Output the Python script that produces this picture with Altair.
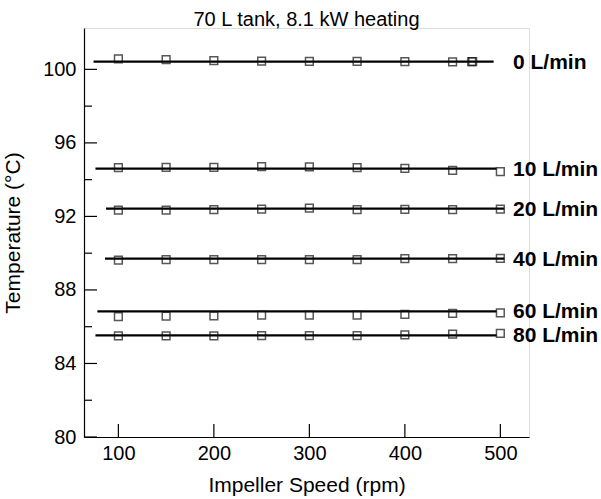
import altair as alt
import pandas as pd

# Impeller speeds at which temperatures were logged
rpm = [100, 150, 200, 250, 300, 350, 400, 450, 500]
rpm_0 = [100, 150, 200, 250, 300, 350, 400, 450, 470, 471]

# Measured tank temperature (deg C) per draw-off flow rate
flows = ["0 L/min", "10 L/min", "20 L/min", "40 L/min", "60 L/min", "80 L/min"]
t_0 = [100.57, 100.53, 100.48, 100.45, 100.44, 100.44, 100.42, 100.41, 100.42, 100.42]
t_10 = [94.66, 94.67, 94.67, 94.71, 94.69, 94.65, 94.62, 94.51, 94.43]
t_20 = [92.34, 92.34, 92.37, 92.40, 92.45, 92.37, 92.38, 92.37, 92.40]
t_40 = [89.62, 89.65, 89.65, 89.65, 89.65, 89.65, 89.70, 89.70, 89.72]
t_60 = [86.55, 86.57, 86.59, 86.63, 86.63, 86.63, 86.67, 86.73, 86.75]
t_80 = [85.50, 85.50, 85.50, 85.52, 85.52, 85.52, 85.56, 85.60, 85.64]

# Fitted (flat) temperature level for each flow and the speed range it spans
fit_level = [100.42, 94.60, 92.42, 89.70, 86.83, 85.53]
fit_start = [74, 76, 87, 86, 78, 76]
fit_end = [493, 496, 504, 504, 496, 496]

# Axis ticks
y_major = [80, 84, 88, 92, 96, 100]
y_minor = [82, 86, 90, 94, 98]
x_major = [100, 200, 300, 400, 500]

FONT = "Liberation Sans"
W, H = 445, 409

series = [t_0, t_10, t_20, t_40, t_60, t_80]
rows = []
for name, temps in zip(flows, series):
    speeds = rpm_0 if name == "0 L/min" else rpm
    for s, t in zip(speeds, temps):
        rows.append({"flow": name, "rpm": s, "temp": t})
points = pd.DataFrame(rows)

fits = pd.DataFrame({"flow": flows, "level": fit_level,
                     "start": fit_start, "end": fit_end})

xscale = alt.Scale(domain=[64, 530], nice=False, zero=False)
yscale = alt.Scale(domain=[80, 102.25], nice=False, zero=False)

x_axis = alt.Axis(values=x_major, ticks=False, tickSize=0, grid=False,
                  labelFont=FONT, labelFontSize=20, labelColor="black",
                  labelPadding=6, domainColor="black", domainWidth=1.2,
                  title="Impeller Speed (rpm)", titleFont=FONT,
                  titleFontSize=21, titleFontWeight="normal",
                  titleColor="black", titleBaseline="alphabetic",
                  titleY=54, titleX=W / 2)
y_axis = alt.Axis(values=y_major, ticks=False, tickSize=0, grid=False,
                  labelFont=FONT, labelFontSize=20, labelColor="black",
                  labelPadding=8, domainColor="black", domainWidth=1.2,
                  title="Temperature (°C)", titleFont=FONT,
                  titleFontSize=21, titleFontWeight="normal",
                  titleColor="black", titleBaseline="alphabetic",
                  titleX=-65, titleY=H / 2, titleAngle=-90)

lines = alt.Chart(fits).mark_rule(color="black", strokeWidth=2.2).encode(
    x=alt.X("start:Q", scale=xscale, axis=x_axis),
    x2="end:Q",
    y=alt.Y("level:Q", scale=yscale, axis=y_axis),
)

marks = alt.Chart(points).mark_point(
    shape="square", size=60, filled=False, color="#111111", strokeWidth=1.5
).encode(
    x=alt.X("rpm:Q", scale=xscale),
    y=alt.Y("temp:Q", scale=yscale),
)

labels = alt.Chart(fits).mark_text(
    align="left", baseline="middle", font=FONT, fontSize=21,
    fontWeight="bold", color="black", dy=1
).encode(
    x=alt.value(429),
    y=alt.Y("level:Q", scale=yscale),
    text="flow:N",
)

ymaj = alt.Chart(pd.DataFrame({"v": y_major})).mark_rule(
    color="black", strokeWidth=1.2
).encode(y=alt.Y("v:Q", scale=yscale), x=alt.value(0), x2=alt.value(13))

ymin = alt.Chart(pd.DataFrame({"v": y_minor})).mark_rule(
    color="black", strokeWidth=1.2
).encode(y=alt.Y("v:Q", scale=yscale), x=alt.value(0), x2=alt.value(8))

xmaj = alt.Chart(pd.DataFrame({"v": x_major})).mark_rule(
    color="black", strokeWidth=1.2
).encode(x=alt.X("v:Q", scale=xscale), y=alt.value(H), y2=alt.value(H - 13))

chart = alt.layer(lines, marks, labels, ymaj, ymin, xmaj).properties(
    width=W,
    height=H,
    title=alt.TitleParams("70 L tank, 8.1 kW heating", font=FONT,
                          fontSize=20, fontWeight="normal", color="black",
                          anchor="middle", frame="group",
                          baseline="alphabetic", offset=2, dy=20),
    autosize=alt.AutoSizeParams(type="none"),
    padding={"left": 84, "top": 28, "right": 72, "bottom": 62},
).configure_view(stroke=None).configure(background="white")

chart.save("out.html", embed_options={"renderer": "svg", "actions": False})
